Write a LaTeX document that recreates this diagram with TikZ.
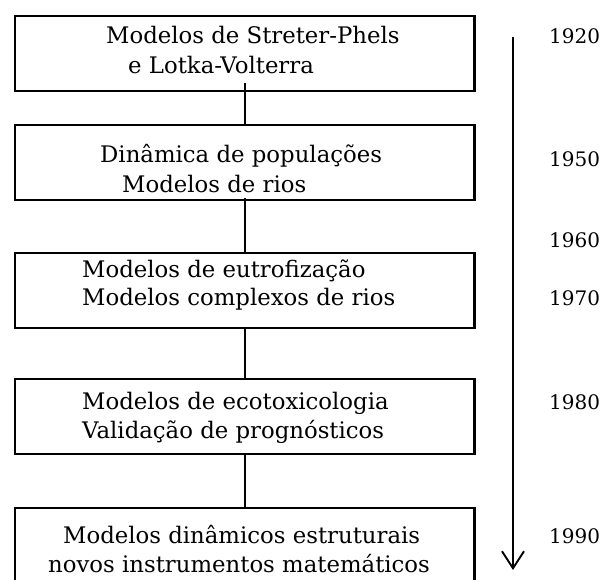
\documentclass[tikz,border=0pt]{standalone}
\usepackage{fontspec}
\setmainfont{DejaVu Serif}
\usetikzlibrary{arrows.meta}
\begin{document}
\begin{tikzpicture}[x=1pt,y=-1pt,
  box/.style={draw, line width=2.3pt, minimum width=459.5pt, minimum height=75pt, inner sep=0pt, anchor=north west},
  ln/.style={anchor=base west, inner sep=0pt, font=\fontsize{22.8}{26}\selectfont},
  yr/.style={anchor=base west, inner sep=0pt, font=\fontsize{20}{24}\selectfont},
  conn/.style={line width=1.9pt},
  timeline/.style={line width=1.9pt, -{Straight Barb[length=17pt,width=22pt,line width=1.9pt]}}
]
\useasboundingbox (0,0) rectangle (603,579);
\clip (0,0) rectangle (603,579);
% boxes
\node[box] (b1) at (13.7,15) {};
\node[box] (b2) at (13.7,124) {};
\node[box] (b3) at (13.7,252) {};
\node[box] (b4) at (13.7,378) {};
\node[box] (b5) at (13.7,507) {};
% texts
\node[ln] (t1a) at (106,43) {Modelos de Streter-Phels};
\node[ln] (t1b) at (128,73) {e Lotka-Volterra};
\node[ln] (t2a) at (100,162) {Dinâmica de populações};
\node[ln] (t2b) at (122,192) {Modelos de rios};
\node[ln] (t3a) at (82,277) {Modelos de eutrofização};
\node[ln] (t3b) at (82,305) {Modelos complexos de rios};
\node[ln] (t4a) at (82,409) {Modelos de ecotoxicologia};
\node[ln] (t4b) at (82,438) {Validação de prognósticos};
\node[ln] (t5a) at (63,543) {Modelos dinâmicos estruturais};
\node[ln] (t5b) at (48,572) {novos instrumentos matemáticos};
% connectors
\draw[conn] ([yshift=9pt]b1.south) -- (b2.north);
\draw[conn] ([yshift=3pt]b2.south) -- (b3.north);
\draw[conn] (b3.south) -- (b4.north);
\draw[conn] ([yshift=2pt]b4.south) -- (b5.north);
% timeline
\coordinate (tt) at (513,37);
\coordinate (tb) at (513,570);
\draw[timeline] (tt) -- (tb);
% years
\node[yr] (y1920) at (549,43) {1920};
\node[yr] (y1950) at (549,166) {1950};
\node[yr] (y1960) at (549,247) {1960};
\node[yr] (y1970) at (549,305) {1970};
\node[yr] (y1980) at (549,409) {1980};
\node[yr] (y1990) at (549,543) {1990};
\end{tikzpicture}
\end{document}
